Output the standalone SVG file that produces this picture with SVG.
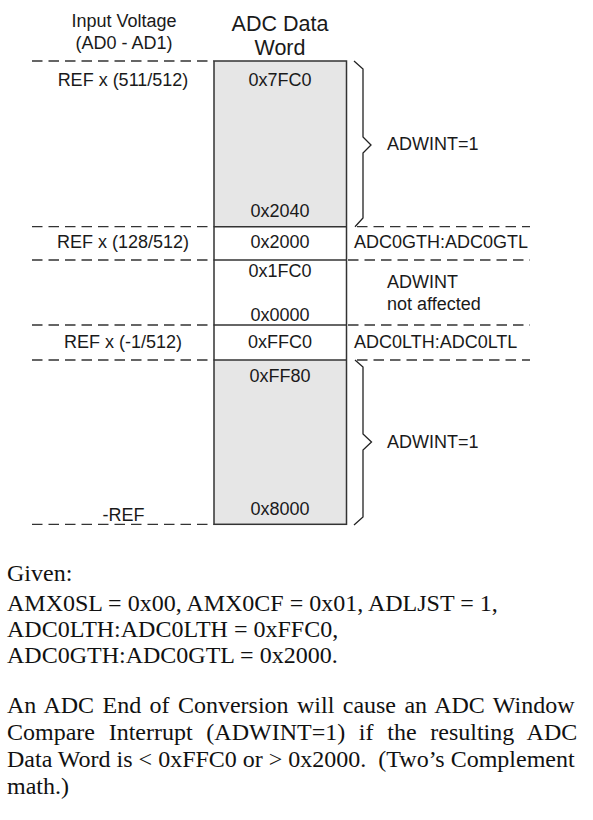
<svg xmlns="http://www.w3.org/2000/svg" width="593" height="820" viewBox="0 0 593 820">
<style>
.lbl{font-family:"Liberation Sans",Arial,sans-serif;font-size:18px;fill:#1a1a1a}
.c{text-anchor:middle}
.hdr{font-family:"Liberation Sans",Arial,sans-serif;font-size:21.5px;fill:#1a1a1a;text-anchor:middle}
.dash{stroke:#333;stroke-width:1.3;stroke-dasharray:10.5,6;fill:none}
.solid{stroke:#333;stroke-width:1.5;fill:none}
.brace{stroke:#222;stroke-width:1.3;fill:none;stroke-linejoin:miter}
.body{font-family:"Liberation Serif","Times New Roman",serif;font-size:24px;fill:#111}
</style>
<rect width="593" height="820" fill="#fff"/>
<g id="headers">
<text class="lbl c" x="124" y="27">Input Voltage</text>
<text class="lbl c" x="124" y="49">(AD0 - AD1)</text>
<text class="hdr" x="280" y="31">ADC Data</text>
<text class="hdr" x="280" y="55">Word</text>
</g>
<g id="column">
<rect x="214" y="61" width="132.5" height="165.7" fill="#e6e6e6"/>
<rect x="214" y="360" width="132.5" height="164.3" fill="#e6e6e6"/>
<rect x="214" y="61" width="132.5" height="463.3" class="solid"/>
<line x1="214" y1="226.7" x2="346.5" y2="226.7" class="solid"/>
<line x1="214" y1="260" x2="346.5" y2="260" class="solid"/>
<line x1="214" y1="325" x2="346.5" y2="325" class="solid"/>
<line x1="214" y1="360" x2="346.5" y2="360" class="solid"/>
</g>
<g id="connectors">
<line x1="32" y1="61" x2="214" y2="61" class="dash"/>
<line x1="32" y1="226.7" x2="214" y2="226.7" class="dash"/>
<line x1="357" y1="226.7" x2="530" y2="226.7" class="dash"/>
<line x1="32" y1="260" x2="214" y2="260" class="dash"/>
<line x1="348" y1="260" x2="530" y2="260" class="dash"/>
<line x1="32" y1="325" x2="214" y2="325" class="dash"/>
<line x1="348" y1="325" x2="530" y2="325" class="dash"/>
<line x1="32" y1="360" x2="214" y2="360" class="dash"/>
<line x1="357" y1="360" x2="530" y2="360" class="dash"/>
<line x1="32" y1="524.3" x2="214" y2="524.3" class="dash"/>
<path class="brace" d="M354,61 L363,69 L363,137 L371,145 L363,153 L363,218 L355,226.7"/>
<path class="brace" d="M355,360 L363,367 L363,434 L371.5,442 L363,450 L363,517 L354,525"/>
</g>
<g id="row-top">
<text class="lbl c" x="123" y="86">REF x (511/512)</text>
<text class="lbl c" x="280" y="86">0x7FC0</text>
<text class="lbl c" x="280" y="217">0x2040</text>
<text class="lbl" x="387" y="150">ADWINT=1</text>
</g>
<g id="row-gt">
<text class="lbl c" x="123" y="248">REF x (128/512)</text>
<text class="lbl c" x="280" y="248">0x2000</text>
<text class="lbl" x="354" y="248">ADC0GTH:ADC0GTL</text>
</g>
<g id="row-mid">
<text class="lbl c" x="280" y="277">0x1FC0</text>
<text class="lbl c" x="280" y="321">0x0000</text>
<text class="lbl" x="387" y="288">ADWINT</text>
<text class="lbl" x="387" y="310">not affected</text>
</g>
<g id="row-lt">
<text class="lbl c" x="123" y="348">REF x (-1/512)</text>
<text class="lbl c" x="280" y="348">0xFFC0</text>
<text class="lbl" x="354" y="348">ADC0LTH:ADC0LTL</text>
</g>
<g id="row-bottom">
<text class="lbl c" x="280" y="382">0xFF80</text>
<text class="lbl c" x="280" y="515">0x8000</text>
<text class="lbl" x="387" y="448">ADWINT=1</text>
<text class="lbl c" x="123.5" y="521">-REF</text>
</g>
<g id="notes">
<text class="body" x="7" y="581">Given:</text>
<text class="body" x="7" y="611">AMX0SL = 0x00, AMX0CF = 0x01, ADLJST = 1,</text>
<text class="body" x="7" y="637">ADC0LTH:ADC0LTH = 0xFFC0,</text>
<text class="body" x="7" y="663">ADC0GTH:ADC0GTL = 0x2000.</text>
<text class="body" x="7" y="713" style="word-spacing:2.4px">An ADC End of Conversion will cause an ADC Window</text>
<text class="body" x="7" y="740" style="word-spacing:7.7px">Compare Interrupt (ADWINT=1) if the resulting ADC</text>
<text class="body" x="7" y="767" xml:space="preserve">Data Word is &lt; 0xFFC0 or &gt; 0x2000.  (Two’s Complement</text>
<text class="body" x="7" y="794">math.)</text>
</g>
</svg>
